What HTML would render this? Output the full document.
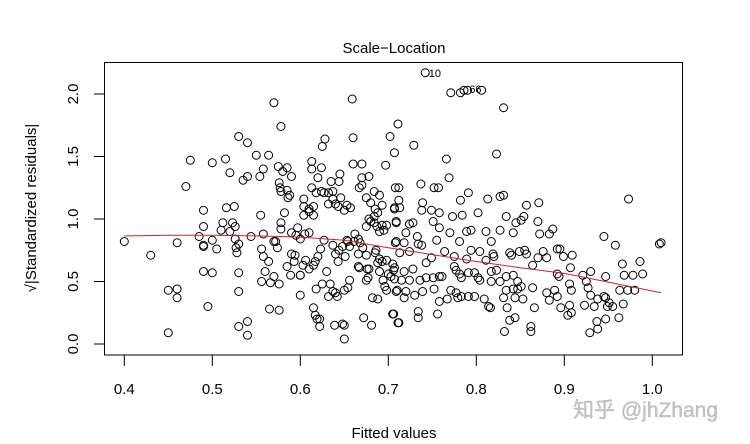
<!DOCTYPE html>
<html><head><meta charset="utf-8"><style>
html,body{margin:0;padding:0;background:#fff;}
svg{display:block;font-family:"Liberation Sans","Noto Sans CJK SC",sans-serif;}
</style></head><body>
<svg id="chart" width="750" height="444" viewBox="0 0 750 444" xmlns="http://www.w3.org/2000/svg">
<rect width="750" height="444" fill="#fff"/>
<text x="394" y="53" font-size="15" text-anchor="middle">Scale−Location</text>
<rect x="104.5" y="62.5" width="578" height="292.5" fill="none" stroke="#000" stroke-width="1"/>
<g id="xaxis"></g>
<g id="yaxis"></g>
<text x="394" y="438" font-size="15" text-anchor="middle">Fitted values</text>
<text transform="translate(36,208) rotate(-90)" font-size="15" text-anchor="middle">√|Standardized residuals|</text>
<g id="points"></g>
<path id="smooth" fill="none" stroke="#d0202a" stroke-width="1"/>
<g id="labels"></g>
<text x="573" y="417" font-size="21" fill="#c4c4c4" stroke="#aaa" stroke-width="0.3">知乎 @jhZhang</text>
</svg>
<script>
const xTicks=[0.4,0.5,0.6,0.7,0.8,0.9,1.0];
const xTickLabels=["0.4","0.5","0.6","0.7","0.8","0.9","1.0"];
const yTicks=[0,0.5,1,1.5,2];
const yTickLabels=["0.0","0.5","1.0","1.5","2.0"];
const fittedX=[0.40,0.43,0.45,0.46,0.46,0.45,0.47,0.475,0.46,0.49,0.49,0.485,0.49,0.49,0.50,0.505,0.49,0.50,0.495,0.50,0.515,0.52,0.53,0.54,0.535,0.54,0.55,0.554,0.558,0.564,0.57,0.578,0.516,0.525,0.512,0.523,0.526,0.51,0.52,0.526,0.53,0.527,0.528,0.53,0.53,0.53,0.54,0.54,0.544,0.555,0.558,0.556,0.558,0.564,0.56,0.556,0.566,0.57,0.576,0.565,0.576,0.57,0.572,0.574,0.578,0.578,0.582,0.575,0.58,0.585,0.59,0.576,0.577,0.578,0.585,0.586,0.588,0.59,0.595,0.597,0.60,0.585,0.589,0.593,0.594,0.59,0.60,0.60,0.60,0.604,0.604,0.61,0.615,0.61,0.615,0.604,0.613,0.613,0.624,0.62,0.625,0.628,0.613,0.618,0.624,0.627,0.632,0.637,0.632,0.637,0.64,0.643,0.646,0.65,0.653,0.657,0.645,0.644,0.635,0.659,0.66,0.66,0.67,0.667,0.67,0.678,0.67,0.675,0.68,0.684,0.69,0.693,0.685,0.688,0.684,0.678,0.675,0.68,0.684,0.687,0.693,0.695,0.69,0.698,0.61,0.605,0.62,0.617,0.615,0.606,0.603,0.61,0.627,0.623,0.63,0.634,0.637,0.625,0.632,0.64,0.642,0.618,0.615,0.617,0.619,0.622,0.622,0.639,0.648,0.65,0.65,0.672,0.681,0.65,0.654,0.656,0.637,0.64,0.644,0.643,0.648,0.651,0.653,0.656,0.654,0.661,0.662,0.666,0.668,0.671,0.666,0.675,0.666,0.667,0.676,0.678,0.675,0.677,0.682,0.688,0.686,0.685,0.688,0.69,0.693,0.698,0.69,0.694,0.696,0.698,0.70,0.705,0.706,0.707,0.706,0.71,0.711,0.709,0.709,0.707,0.708,0.711,0.702,0.707,0.697,
0.742,0.771,0.782,0.786,0.79,0.806,0.831,0.729,0.766,0.769,0.823,0.712,0.737,0.752,0.757,0.712,0.707,0.713,0.709,0.739,0.738,0.749,0.758,0.751,0.773,0.782,0.784,0.791,0.802,0.813,0.827,0.831,0.857,0.871,0.834,0.845,0.851,0.854,0.870,0.887,0.883,0.872,0.842,0.827,0.817,0.811,0.794,0.789,0.781,0.770,0.758,0.755,0.733,0.734,0.724,0.728,0.720,0.708,0.718,0.724,0.738,0.713,0.743,0.728,0.718,0.707,0.703,0.715,0.724,0.736,0.743,0.751,0.758,0.761,0.709,0.720,0.718,0.730,0.739,0.752,0.758,0.767,0.771,0.777,0.779,0.783,0.791,0.798,0.809,0.814,0.816,0.705,0.712,0.734,0.734,0.756,0.775,0.777,0.781,0.783,0.791,0.798,0.802,0.804,0.817,0.823,0.817,0.827,0.794,0.804,0.811,0.819,0.820,0.789,0.775,0.764,0.749,0.838,0.840,0.849,0.855,0.857,0.864,0.870,0.876,0.880,0.892,0.895,0.899,0.909,0.907,0.894,0.892,0.834,0.842,0.834,0.842,0.847,0.851,0.847,0.864,0.853,0.835,0.831,0.844,0.866,0.880,0.883,0.889,0.892,0.896,0.906,0.908,0.904,0.906,0.908,0.838,0.844,0.832,0.862,0.862,0.921,0.930,0.925,0.927,0.923,0.930,0.934,0.938,0.945,0.947,0.949,0.951,0.955,0.967,0.947,0.929,0.938,0.947,0.937,0.962,0.963,0.968,0.972,0.978,0.980,0.989,0.986,0.966,0.945,0.958,0.973,1.008,1.010];
const sqrtStdResid=[0.82,0.71,0.43,0.44,0.37,0.09,1.26,1.47,0.81,1.07,0.94,0.86,0.79,0.78,0.83,0.76,0.58,0.57,0.30,1.45,1.48,1.37,1.66,1.61,1.31,1.34,1.51,1.34,1.40,1.51,1.93,1.74,1.09,1.10,0.97,0.97,0.94,0.91,0.90,0.84,0.80,0.77,0.73,0.57,0.42,0.14,0.18,0.07,0.86,1.03,0.88,0.76,0.70,0.66,0.58,0.50,0.49,0.54,0.48,0.28,0.27,0.82,0.82,0.77,0.97,0.92,1.05,1.42,1.38,1.41,1.34,1.29,1.25,1.22,1.23,1.17,1.19,0.89,0.87,0.93,0.84,0.62,0.55,0.66,0.71,0.72,0.55,0.55,0.39,1.16,1.10,1.06,1.10,1.08,1.03,1.03,1.46,1.40,1.41,1.33,1.58,1.64,1.25,1.21,1.22,1.21,1.21,1.22,1.12,1.16,1.12,1.10,1.17,1.07,1.11,1.09,1.36,1.30,1.30,1.96,1.65,1.44,1.44,1.25,1.27,1.34,1.33,1.17,1.13,1.22,1.19,1.11,1.08,1.05,1.02,1.00,0.94,0.98,0.97,0.94,0.95,0.91,0.90,0.95,0.89,0.88,0.70,0.66,0.63,0.67,0.63,0.60,0.83,0.76,0.58,0.48,0.42,0.48,0.38,0.41,0.38,0.44,0.29,0.23,0.20,0.20,0.14,0.15,0.16,0.15,0.04,0.21,0.15,0.43,0.45,0.51,0.79,0.72,0.75,0.66,0.78,0.70,0.83,0.78,0.82,0.82,0.88,0.84,0.81,0.77,0.72,0.71,0.62,0.61,0.60,0.60,0.51,0.53,0.37,0.36,0.75,0.73,0.65,0.68,0.66,0.67,0.58,0.51,0.46,0.43,0.56,0.64,0.59,0.52,0.24,0.43,0.17,0.82,0.97,1.08,1.25,1.76,1.66,1.53,1.43,
2.17,2.01,2.01,2.03,2.03,2.03,1.89,1.59,1.48,1.33,1.52,1.25,1.28,1.25,1.25,1.15,1.09,1.09,0.98,1.13,1.07,1.07,1.05,0.98,1.02,1.15,1.03,1.21,1.05,1.16,1.18,1.19,1.11,1.13,1.02,0.97,0.99,1.02,0.98,0.92,0.88,0.88,0.89,0.91,0.82,0.90,0.91,0.90,0.82,0.89,0.93,0.83,0.86,0.80,0.96,0.97,0.89,0.81,0.81,0.74,0.79,0.73,0.65,0.60,0.58,0.61,0.54,0.51,0.51,0.51,0.53,0.53,0.54,0.54,0.42,0.42,0.37,0.39,0.42,0.44,0.34,0.36,0.43,0.41,0.37,0.38,0.38,0.38,0.36,0.30,0.29,0.24,0.17,0.26,0.21,0.24,0.62,0.59,0.56,0.53,0.57,0.57,0.53,0.51,0.58,0.59,0.50,0.50,0.75,0.74,0.67,0.72,0.70,0.68,0.70,0.74,0.69,0.73,0.71,0.74,0.75,0.72,0.63,0.69,0.74,0.69,0.76,0.76,0.70,0.71,0.61,0.54,0.56,0.54,0.55,0.43,0.44,0.44,0.46,0.50,0.45,0.36,0.29,0.37,0.37,0.29,0.41,0.35,0.43,0.38,0.29,0.31,0.25,0.23,0.48,0.43,0.19,0.21,0.10,0.14,0.10,0.55,0.58,0.50,0.45,0.31,0.39,0.30,0.36,0.38,0.37,0.30,0.33,0.30,0.32,0.54,0.09,0.12,0.20,0.18,0.21,0.43,0.55,0.43,0.55,0.43,0.56,0.66,0.64,0.86,0.79,1.16,0.80,0.81];
const smoothX=[0.40,0.45,0.50,0.55,0.60,0.65,0.70,0.75,0.80,0.85,0.90,0.95,1.01];
const smoothY=[0.865,0.87,0.87,0.865,0.855,0.83,0.77,0.715,0.66,0.61,0.565,0.495,0.41];
const pointLabels=["10","66"];
const labelX=[0.746,0.792];
const labelY=[2.17,2.04];

const NS="http://www.w3.org/2000/svg";
function sx(v){return 124.3+(v-0.4)*880;}
function sy(v){return 344-v*125;}
function mk(tag,attrs,parent){const e=document.createElementNS(NS,tag);for(const k in attrs)e.setAttribute(k,attrs[k]);parent.appendChild(e);return e;}
const xa=document.getElementById('xaxis'),ya=document.getElementById('yaxis');
xTicks.forEach((t,i)=>{
  const l=mk('line',{x1:sx(t),x2:sx(t),y1:355,y2:366,stroke:'#000'},xa);
  
  
  const tx=mk('text',{x:sx(t),y:394,'font-size':15,'text-anchor':'middle'},xa);
  tx.textContent=xTickLabels[i];
  
  
});
yTicks.forEach((t,i)=>{
  const l=mk('line',{x1:94,x2:104.5,y1:sy(t),y2:sy(t),stroke:'#000'},ya);
  
  
  const tx=mk('text',{transform:`translate(78,${sy(t)}) rotate(-90)`,'font-size':15,'text-anchor':'middle'},ya);
  tx.textContent=yTickLabels[i];
  
  
});
const pg=document.getElementById('points');
fittedX.forEach((x,i)=>{
  const c=mk('circle',{cx:sx(x),cy:sy(sqrtStdResid[i]),r:4,fill:'none',stroke:'#000','stroke-width':1},pg);
  
  
});
document.getElementById('smooth').setAttribute('d',smoothX.map((x,i)=>(i?'L':'M')+sx(x)+','+sy(smoothY[i])).join(' '));
const lg=document.getElementById('labels');
pointLabels.forEach((s,i)=>{
  const t=mk('text',{x:sx(labelX[i]),y:sy(labelY[i])+4,'font-size':11},lg);
  t.textContent=s;
  
  
});
</script>
</body></html>
